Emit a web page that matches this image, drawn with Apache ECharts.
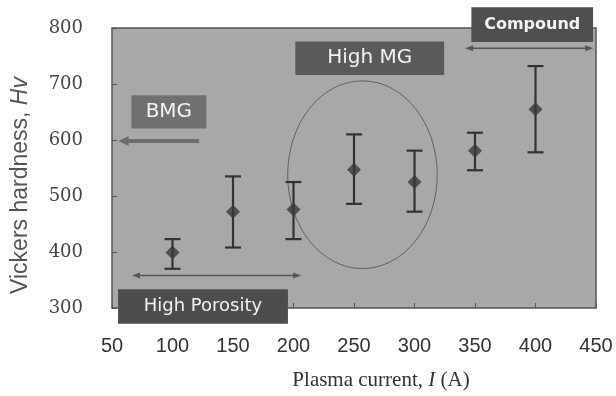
<!DOCTYPE html>
<html>
<head>
<meta charset="utf-8">
<script src="https://cdn.jsdelivr.net/npm/echarts@6/dist/echarts.min.js"></script>
<style>
  html, body { margin: 0; padding: 0; background: #fff; }
  #hardnessChart { width: 616px; height: 396px; }
</style>
</head>
<body>
<div id="hardnessChart"></div>
<script>
// plasma current (A) vs Vickers hardness, with error bars
const currents = [100, 150, 200, 250, 300, 350, 400];
const hardness = [399, 472, 476, 547, 525, 581, 655];
const upperErr = [423, 535, 525, 610, 581, 613, 732];
const lowerErr = [370, 408, 423, 486, 472, 546, 578];

// annotation boxes in data units: [x0, yTop, x1, yBottom]
const boxTexts = ['Compound', 'High MG', 'BMG', 'High Porosity'];
const boxCorners = [
  [347, 837, 447.6, 775],
  [201.5, 776, 324.5, 716],
  [66, 680, 128, 620.5],
  [55, 333.5, 195.4, 272]
];
// arrows: [xFrom, xTo, y]
const arrowSpans = [
  [341.8, 447.7, 764],
  [66.5, 206.3, 358],
  [122, 55.5, 598]
];
const arrowKinds = ['both', 'both', 'left'];
// ellipse around the high MG region: [cx, cy, rx, ry]
const mgRegion = [[257, 538, 61.8, 167.6]];

const boxStyles = {
  'Compound': { fill: '#4f4f4f', font: 'bold 16px "DejaVu Sans"' },
  'High MG': { fill: '#5a5a5a', font: '20px "DejaVu Sans"' },
  'BMG': { fill: '#707070', font: '20px "DejaVu Sans"' },
  'High Porosity': { fill: '#4d4d4d', font: '18px "DejaVu Sans"' }
};

const chart = echarts.init(document.getElementById('hardnessChart'));

function renderBox(params, api) {
  const a = api.coord([api.value(0), api.value(1)]);
  const b = api.coord([api.value(2), api.value(3)]);
  const name = boxTexts[params.dataIndex];
  const st = boxStyles[name];
  return {
    type: 'group',
    children: [
      { type: 'rect', shape: { x: a[0], y: a[1], width: b[0] - a[0], height: b[1] - a[1] },
        style: { fill: st.fill } },
      { type: 'text', x: (a[0] + b[0]) / 2, y: (a[1] + b[1]) / 2,
        style: { text: name, font: st.font, fill: '#f2f2f2', align: 'center', verticalAlign: 'middle' } }
    ]
  };
}

function renderArrow(params, api) {
  const p0 = api.coord([api.value(0), api.value(2)]);
  const p1 = api.coord([api.value(1), api.value(2)]);
  const kind = arrowKinds[params.dataIndex];
  const y = p0[1];
  const children = [];
  if (kind === 'left') {
    const tip = p1[0];
    children.push({ type: 'line', shape: { x1: p0[0], y1: y, x2: tip + 8, y2: y },
      style: { stroke: '#6d6d6d', lineWidth: 4 } });
    children.push({ type: 'polygon', shape: { points: [[tip, y], [tip + 10, y - 5], [tip + 10, y + 5]] },
      style: { fill: '#6d6d6d' } });
  } else {
    const l = Math.min(p0[0], p1[0]), r = Math.max(p0[0], p1[0]);
    children.push({ type: 'line', shape: { x1: l + 4, y1: y, x2: r - 4, y2: y },
      style: { stroke: '#555', lineWidth: 1.5 } });
    children.push({ type: 'polygon', shape: { points: [[l, y], [l + 8, y - 3], [l + 8, y + 3]] },
      style: { fill: '#555' } });
    children.push({ type: 'polygon', shape: { points: [[r, y], [r - 8, y - 3], [r - 8, y + 3]] },
      style: { fill: '#555' } });
  }
  return { type: 'group', children: children };
}

function renderEllipse(params, api) {
  const c = api.coord([api.value(0), api.value(1)]);
  const e = api.coord([api.value(0) + api.value(2), api.value(1) + api.value(3)]);
  const rx = Math.abs(e[0] - c[0]);
  const ry = Math.abs(c[1] - e[1]);
  return {
    type: 'circle',
    x: c[0], y: c[1],
    scaleX: rx / ry, scaleY: 1,
    shape: { cx: 0, cy: 0, r: ry },
    style: { fill: null, stroke: '#585858', lineWidth: 1, strokeNoScale: true }
  };
}

function renderErrorBar(params, api) {
  const x = api.value(0);
  const top = api.coord([x, api.value(2)]);
  const bot = api.coord([x, api.value(1)]);
  const hw = 8;
  const ls = { stroke: '#333', lineWidth: 2.2 };
  return {
    type: 'group',
    children: [
      { type: 'line', shape: { x1: top[0], y1: top[1], x2: bot[0], y2: bot[1] }, style: ls },
      { type: 'line', shape: { x1: top[0] - hw, y1: top[1], x2: top[0] + hw, y2: top[1] }, style: ls },
      { type: 'line', shape: { x1: bot[0] - hw, y1: bot[1], x2: bot[0] + hw, y2: bot[1] }, style: ls }
    ]
  };
}

const option = {
  animation: false,
  grid: {
    left: 112, right: 20, top: 28, bottom: 84,
    show: true,
    backgroundColor: '#a8a8a8',
    borderColor: '#555',
    borderWidth: 1.5
  },
  xAxis: {
    type: 'value',
    min: 50, max: 450, interval: 50,
    axisLine: { show: false },
    axisTick: { show: true, inside: true, length: 5, lineStyle: { color: '#555' } },
    splitLine: { show: false },
    axisLabel: { margin: 28, color: '#333', fontFamily: 'Liberation Sans', fontSize: 20 },
    name: 'Plasma current, {i|I} (A)',
    nameLocation: 'middle',
    nameGap: 62,
    nameTextStyle: {
      color: '#333', fontFamily: 'Liberation Serif', fontSize: 21,
      padding: [0, 0, 0, 54],
      rich: { i: { fontStyle: 'italic', fontFamily: 'Liberation Serif', fontSize: 21, color: '#333' } }
    }
  },
  yAxis: {
    type: 'value',
    min: 300, max: 800, interval: 100,
    axisLine: { show: false },
    axisTick: { show: true, inside: true, length: 5, lineStyle: { color: '#555' } },
    splitLine: { show: false },
    axisLabel: { margin: 29, color: '#444', fontFamily: 'DejaVu Serif', fontSize: 18 },
    name: 'Vickers hardness, {i|Hv}',
    nameLocation: 'middle',
    nameGap: 80,
    nameTextStyle: {
      color: '#555', fontFamily: 'Liberation Sans', fontSize: 23,
      padding: [0, 35, 0, 0],
      rich: { i: { fontStyle: 'italic', fontFamily: 'Liberation Sans', fontSize: 23, color: '#555' } }
    }
  },
  series: [
    {
      type: 'custom', name: 'region', clip: false, z: 1,
      renderItem: renderEllipse,
      data: mgRegion
    },
    {
      type: 'custom', name: 'arrows', clip: false, z: 2,
      renderItem: renderArrow,
      data: arrowSpans
    },
    {
      type: 'custom', name: 'labels', clip: false, z: 3,
      renderItem: renderBox,
      data: boxCorners
    },
    {
      type: 'custom', name: 'error', z: 4,
      renderItem: renderErrorBar,
      data: currents.map((c, i) => [c, lowerErr[i], upperErr[i]])
    },
    {
      type: 'scatter', name: 'hardness', z: 5,
      symbol: 'diamond', symbolSize: [14, 14],
      itemStyle: { color: '#383838' },
      data: currents.map((c, i) => [c, hardness[i]])
    }
  ]
};

chart.setOption(option);
</script>
</body>
</html>
